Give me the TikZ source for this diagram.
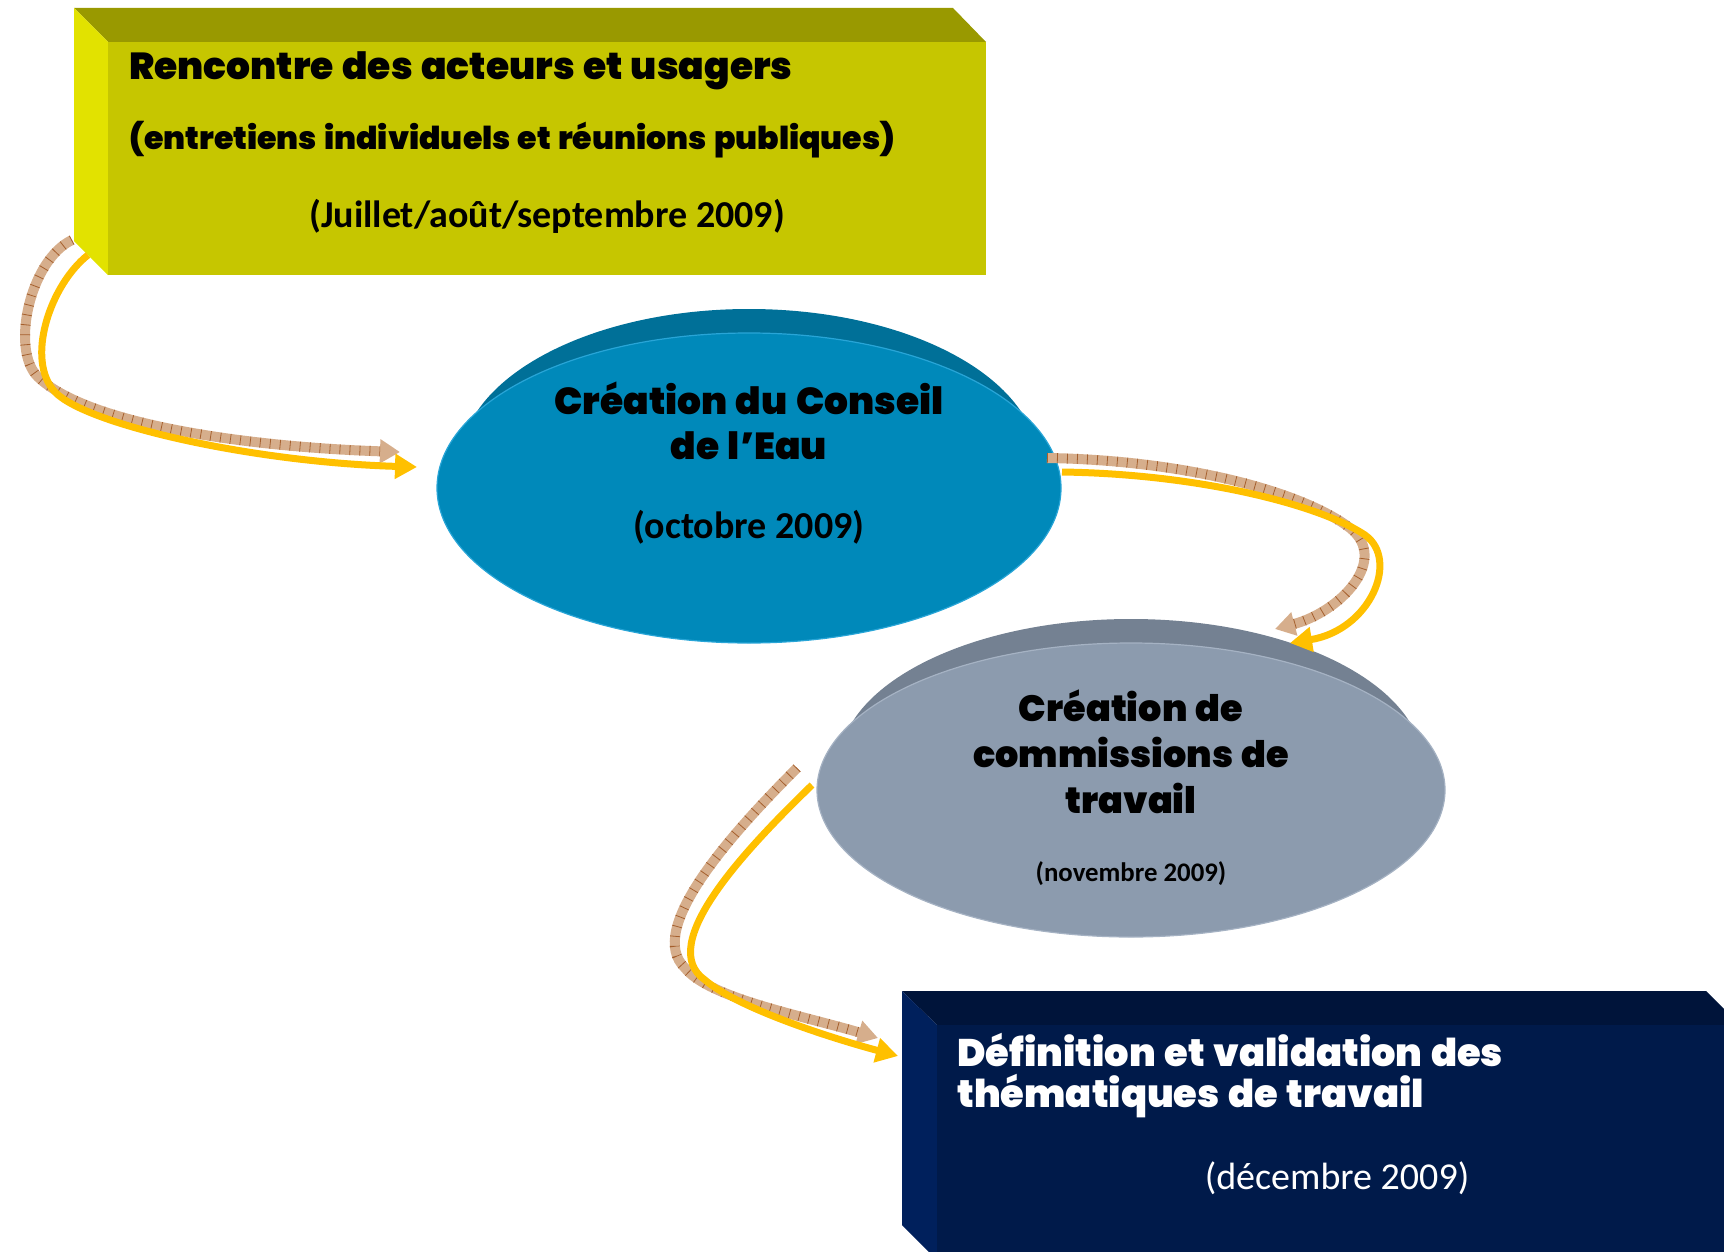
\documentclass[tikz,border=0pt]{standalone}
\usepackage{fontspec}
\setmainfont{Carlito}
\newfontfamily\heavyfont[WordSpace=1.3]{Poppins Black}
\usepackage{tikz}
\usetikzlibrary{arrows.meta}

\definecolor{olivetop}{RGB}{153,153,0}
\definecolor{olivefront}{RGB}{198,198,0}
\definecolor{oliveside}{RGB}{226,226,0}
\definecolor{bluemain}{RGB}{0,137,186}
\definecolor{bluetop}{RGB}{0,112,152}
\definecolor{blueedge}{RGB}{40,165,215}
\definecolor{greymain}{RGB}{140,155,174}
\definecolor{greytop}{RGB}{116,129,146}
\definecolor{greyedge}{RGB}{165,178,195}
\definecolor{navyfront}{RGB}{0,26,74}
\definecolor{navytop}{RGB}{0,20,58}
\definecolor{navyside}{RGB}{0,32,92}
\definecolor{arrowyellow}{RGB}{255,192,0}
\definecolor{hatchfill}{RGB}{214,174,140}
\definecolor{hatchline}{RGB}{165,95,45}

\tikzset{
	heading/.style={font=\heavyfont\fontsize{18.8}{22.5}\selectfont, align=center, inner sep=0},
	datetext/.style={font=\bfseries\fontsize{19}{22}\selectfont, inner sep=0},
	yellowarrow/.style={draw=arrowyellow, line width=3.5pt, -{Triangle[width=12pt,length=11pt]}},
	hatcharrow/.style={draw=hatchfill, line width=5pt, -{Triangle[width=11.5pt,length=10pt]},
		postaction={draw=hatchline, line width=5pt, dash pattern=on 0.4pt off 4.6pt, -, shorten >=10pt}},
}

\begin{document}
\begin{tikzpicture}[x=0.5pt,y=-0.5pt]
	\useasboundingbox (0,0) rectangle (1724,1252);
	\clip (0,0) rectangle (1724,1252);

	\fill[olivetop] (74,8)--(953,8)--(986,42)--(108,42)--cycle;
	\fill[oliveside] (74,8)--(108,42)--(108,275)--(74,241)--cycle;
	\fill[olivefront] (108,42) rectangle (986,275);

	\fill[bluetop] (749,464) ellipse [x radius=289, y radius=155];
	\filldraw[fill=bluemain, draw=blueedge, line width=0.6pt] (749,488) ellipse [x radius=312, y radius=155];

	\fill[greytop] (1131,766) ellipse [x radius=292, y radius=147];
	\filldraw[fill=greymain, draw=greyedge, line width=0.6pt] (1131,790) ellipse [x radius=314, y radius=147];

	\fill[navytop] (902,991)--(1706,991)--(1740,1025)--(937,1025)--cycle;
	\fill[navyside] (902,991)--(937,1025)--(937,1260)--(902,1225)--cycle;
	\fill[navyfront] (937,1025) rectangle (1740,1260);

	\node[heading, anchor=west] (rencontre) at (129,71) {Rencontre des acteurs et usagers};
	\node[heading, anchor=west, font=\heavyfont\fontsize{15.8}{18}\selectfont] (entretiens) at (129,140) {(entretiens individuels et réunions publiques)};
	\node[datetext] (juillet) at (547,216) {(Juillet/août/septembre 2009)};

	\node[heading] (conseil) at (749,421) {Création du Conseil\\de l’Eau};
	\node[datetext] (octobre) at (749,527) {(octobre 2009)};

	\node[heading, font=\heavyfont\fontsize{18.3}{23}\selectfont] (commissions) at (1131,752) {Création de\\commissions de\\travail};
	\node[datetext, font=\bfseries\fontsize{13.4}{16}\selectfont] (novembre) at (1131,874) {(novembre 2009)};

	\node[heading, anchor=west, text=white, font=\heavyfont\fontsize{19.2}{23}\selectfont] (definition) at (957,1050) {Définition et validation des};
	\node[heading, anchor=west, text=white, font=\heavyfont\fontsize{19.2}{23}\selectfont] (thematiques) at (957,1096) {thématiques de travail};
	\node[datetext, text=white, font=\fontsize{19}{22}\selectfont] (decembre) at (1337,1178) {(décembre 2009)};

	\coordinate (hatchA1) at (72,240);
	\coordinate (hatchA2) at (400,452);
	\coordinate (yellowA1) at (88,255);
	\coordinate (yellowA2) at (417,467);
	\coordinate (hatchB1) at (1047,458);
	\coordinate (hatchB2) at (1275,629);
	\coordinate (yellowB1) at (1062,472);
	\coordinate (yellowB2) at (1290,643);
	\coordinate (hatchC1) at (797,768);
	\coordinate (hatchC2) at (878,1038);
	\coordinate (yellowC1) at (812,785);
	\coordinate (yellowC2) at (898,1056);

	\draw[hatcharrow] (hatchA1) .. controls (30,260) and (10,350) .. (38,377) .. controls (88,425) and (250,447) .. (hatchA2);
	\draw[yellowarrow] (yellowA1) .. controls (50,285) and (25,360) .. (55,392) .. controls (85,424) and (250,462) .. (yellowA2);

	\draw[hatcharrow] (hatchB1) .. controls (1180,460) and (1300,490) .. (1350,528) .. controls (1390,560) and (1340,612) .. (hatchB2);
	\draw[yellowarrow] (yellowB1) .. controls (1200,474) and (1320,505) .. (1365,535) .. controls (1400,560) and (1370,630) .. (yellowB2);

	\draw[hatcharrow] (hatchC1) .. controls (730,835) and (645,930) .. (685,968) .. controls (709,998) and (800,1015) .. (hatchC2);
	\draw[yellowarrow] (yellowC1) .. controls (745,850) and (655,945) .. (705,980) .. controls (735,1006) and (820,1035) .. (yellowC2);
\end{tikzpicture}
\end{document}
